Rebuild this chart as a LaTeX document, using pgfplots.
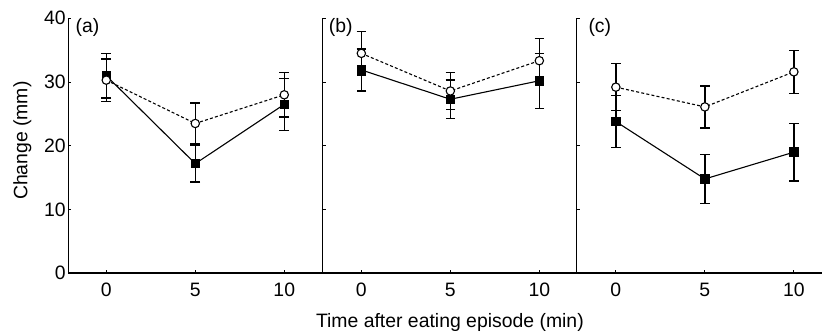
\documentclass[border=0pt]{standalone}
\usepackage{fontspec}
\setmainfont{Liberation Sans}
\usepackage{pgfplots}
\usepackage{pgfplotstable}
\pgfplotsset{compat=1.18}

\pgfplotstableread{
x y e
0 31.0 3.5
5 17.2 2.9
10 26.5 4.1
}\af
\pgfplotstableread{
x y e
0 30.3 3.3
5 23.5 3.2
10 28.0 3.5
}\ao
\pgfplotstableread{
x y e
0 31.9 3.3
5 27.3 3.0
10 30.2 4.3
}\bf
\pgfplotstableread{
x y e
0 34.5 3.4
5 28.6 2.9
10 33.35 3.5
}\bo
\pgfplotstableread{
x y e
0 23.8 4.1
5 14.8 3.8
10 19.0 4.5
}\cf
\pgfplotstableread{
x y e
0 29.2 3.7
5 26.1 3.3
10 31.6 3.4
}\co

\pgfplotsset{
  panel/.style={
    x=8.9pt, y=3.1875pt,
    ymin=0, ymax=40,
    axis x line*=bottom, axis y line*=left,
    ytick={0,10,20,30,40}, xtick={0,5,10},
    tick align=inside,
    major tick length=1.6pt,
    tick style={line width=0.5pt, black},
    font=\fontsize{9.7}{11.6}\selectfont,
    /pgf/number format/assume math mode=true,
    clip=false,
    x axis line style={line width=0.9pt},
    y axis line style={line width=0.5pt},
    yticklabel style={inner sep=1pt},
    xticklabel style={yshift=-1.5pt},
    anchor=south west,
  },
  fser/.style={black, line width=0.55pt, mark=square*, mark size=2.1pt,
    mark options={solid, fill=black},
    error bars/.cd, y dir=both, y explicit,
    error bar style={line width=0.65pt, solid},
    error mark options={rotate=90, mark size=2.4pt, line width=0.65pt, solid}},
  oser/.style={black, line width=0.55pt, dash pattern=on 1.5pt off 1.1pt,
    mark=*, mark size=2.1pt, mark options={solid, fill=white, line width=0.55pt},
    error bars/.cd, y dir=both, y explicit,
    error bar style={line width=0.65pt, solid},
    error mark options={rotate=90, mark size=2.4pt, line width=0.65pt, solid}},
}

\begin{document}
\begin{tikzpicture}
\begin{axis}[panel, at={(0,0)}, xmin=-2.15, xmax=12.17,
  ylabel={Change (mm)},
  ylabel style={at={([xshift=-14.8pt]axis description cs:0,0.52)}, anchor=south}]
  \addplot[fser] table[x=x, y=y, y error=e] {\af};
  \addplot[oser] table[x=x, y=y, y error=e] {\ao};
  \node[anchor=base west, inner sep=0pt] at (axis cs:-1.74,37.7) {(a)};
\end{axis}
\begin{axis}[panel, at={(127.35pt,0)}, xmin=-2.17, xmax=12.12, yticklabels={},
  xlabel={Time after eating episode (min)},
  xlabel style={at={(axis description cs:0.5,0)}, anchor=north, yshift=-16.6pt}]
  \addplot[fser] table[x=x, y=y, y error=e] {\bf};
  \addplot[oser] table[x=x, y=y, y error=e] {\bo};
  \node[anchor=base west, inner sep=0pt] at (axis cs:-1.85,37.7) {(b)};
\end{axis}
\begin{axis}[panel, at={(254.35pt,0)}, xmin=-2.2, xmax=11.59, yticklabels={}]
  \addplot[fser] table[x=x, y=y, y error=e] {\cf};
  \addplot[oser] table[x=x, y=y, y error=e] {\co};
  \node[anchor=base west, inner sep=0pt] at (axis cs:-1.56,37.7) {(c)};
\end{axis}
\pgfresetboundingbox
\path[use as bounding box] (-34pt,-29.35pt) rectangle (377pt,136.65pt);
\end{tikzpicture}
\end{document}
